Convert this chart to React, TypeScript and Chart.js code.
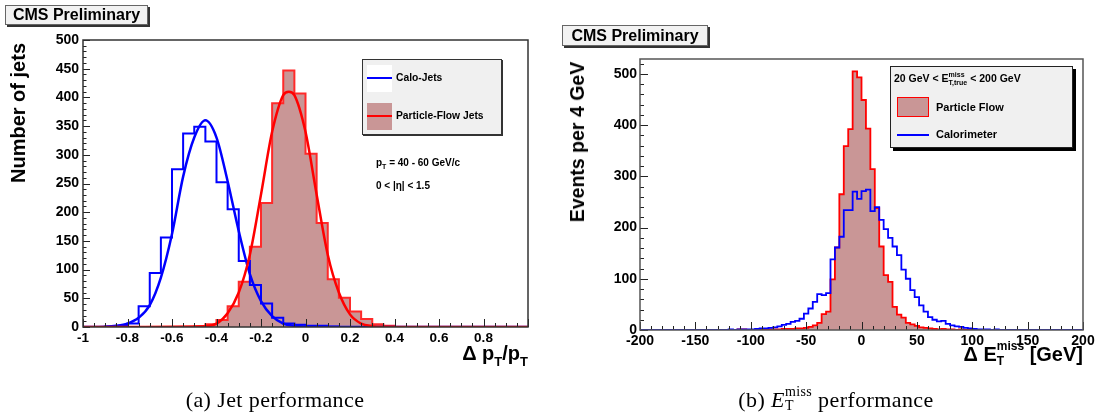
import React, { useEffect, useRef } from 'react';
import { Chart, registerables } from 'chart.js';

Chart.register(...registerables);

// ---------------- (a) Jet performance : Δp_T/p_T ----------------
const jetBinStart = -1;
const jetBinWidth = 0.05;
// 40 bins from -1 to 1
const jetCaloCounts = [
  0, 0, 1, 2, 6, 36, 94, 156, 275, 337,
  349, 323, 252, 205, 115, 73, 41, 16, 6, 4,
  2, 2, 1, 0, 0, 0, 0, 0, 0, 0,
  0, 0, 0, 0, 0, 0, 0, 0, 0, 0,
];
const jetPFCounts = [
  0, 0, 0, 0, 0, 0, 0, 0, 0, 0,
  1, 5, 12, 36, 79, 140, 216, 390, 447, 407,
  302, 181, 83, 51, 27, 14, 5, 2, 0, 0,
  0, 0, 0, 0, 0, 0, 0, 0, 0, 0,
];
// Gaussian fit curves
const jetCaloFitX = [-1, -0.9, -0.85, -0.8, -0.75, -0.7, -0.65, -0.6, -0.55, -0.5, -0.45, -0.4, -0.35, -0.3, -0.25, -0.2, -0.15, -0.1, -0.05, 0, 0.1, 1];
const jetCaloFitY = [0, 0.5, 2, 6, 16, 38, 86, 162, 262, 330, 360, 330, 254, 167, 92, 45, 19, 6, 2, 0.5, 0, 0];
const jetPFFitX = [-1, -0.45, -0.4, -0.35, -0.3, -0.25, -0.2, -0.15, -0.1, -0.075, -0.05, 0, 0.05, 0.1, 0.15, 0.2, 0.25, 0.3, 0.35, 0.45, 1];
const jetPFFitY = [0, 1.5, 6, 24, 60, 126, 231, 340, 404, 410, 404, 340, 231, 126, 60, 22, 6, 1.5, 0.3, 0, 0];
const jetXTicks = [-1, -0.8, -0.6, -0.4, -0.2, 0, 0.2, 0.4, 0.6, 0.8];
const jetYTicks = [0, 50, 100, 150, 200, 250, 300, 350, 400, 450, 500];

// ---------------- (b) MET performance : ΔE_T^miss ----------------
const metBinStart = -200;
const metBinWidth = 4;
// 100 bins from -200 to 200 GeV
const metPFCounts = [
  0, 0, 0, 0, 0, 0, 0, 0, 0, 0,
  0, 0, 0, 0, 0, 0, 0, 0, 0, 0,
  0, 0, 1, 1, 0, 0, 1, 0, 1, 1,
  1, 1, 2, 2, 2, 3, 3, 4, 6, 9,
  14, 31, 36, 99, 161, 265, 359, 392, 505, 493,
  449, 393, 314, 238, 163, 107, 94, 45, 30, 24,
  14, 11, 8, 5, 4, 3, 2, 1, 2, 1,
  1, 0, 1, 0, 1, 0, 0, 0, 0, 0,
  0, 0, 0, 0, 0, 0, 0, 0, 0, 0,
  0, 0, 0, 0, 0, 0, 0, 0, 0, 0,
];
const metCaloCounts = [
  0, 0, 0, 0, 0, 0, 0, 0, 0, 0,
  0, 0, 0, 0, 0, 0, 0, 0, 0, 0,
  1, 0, 1, 1, 1, 1, 2, 3, 3, 4,
  5, 7, 10, 12, 16, 18, 22, 32, 42, 55,
  70, 68, 72, 138, 161, 182, 234, 234, 270, 256,
  271, 274, 232, 240, 215, 197, 180, 163, 146, 118,
  100, 78, 64, 48, 36, 25, 20, 17, 18, 12,
  9, 7, 6, 4, 3, 2, 1, 1, 1, 0,
  1, 0, 0, 0, 0, 0, 0, 0, 0, 0,
  0, 0, 0, 0, 0, 0, 0, 0, 0, 0,
];
const metXTicks = [-200, -150, -100, -50, 0, 50, 100, 150, 200];
const metYTicks = [0, 100, 200, 300, 400, 500];

// ---------------- styling ----------------
const SANS = '"Liberation Sans", Arial, Helvetica, sans-serif';
const SERIF = '"Liberation Serif", "Times New Roman", serif';
const BLUE = '#0000ff';
const RED = '#ff0000';
const BROWN = 'rgb(201,150,150)';

function histPoints(start: number, width: number, counts: number[]) {
  const pts = counts.map((c, i) => ({ x: start + i * width, y: c }));
  pts.push({ x: start + counts.length * width, y: counts[counts.length - 1] });
  return pts;
}

function histDataset(start: number, width: number, counts: number[], color: string, fillColor: string | null, order: number, lw: number) {
  return {
    data: histPoints(start, width, counts),
    borderColor: color,
    borderWidth: lw,
    backgroundColor: fillColor || 'rgba(0,0,0,0)',
    fill: fillColor ? 'origin' : false,
    stepped: 'before',
    pointRadius: 0,
    order,
  };
}

function curveDataset(xs: number[], ys: number[], color: string, order: number) {
  return {
    data: xs.map((x, i) => ({ x, y: ys[i] })),
    borderColor: color,
    borderWidth: 2.5,
    fill: false,
    pointRadius: 0,
    cubicInterpolationMode: 'monotone',
    order,
  };
}

const rootFrame = {
  id: 'rootFrame',
  afterDatasetsDraw(chart: any, _args: any, o: any) {
    const { ctx, chartArea: a } = chart;
    const xs = chart.scales.x;
    const ys = chart.scales.y;
    ctx.save();
    ctx.strokeStyle = '#222';
    ctx.lineWidth = 1;
    ctx.beginPath();
    const nx = Math.round((xs.max - xs.min) / o.xMinor);
    for (let k = 0; k <= nx; k++) {
      const v = xs.min + k * o.xMinor;
      const r = v / o.xMajor;
      const major = Math.abs(r - Math.round(r)) < 1e-6;
      const px = Math.round(xs.getPixelForValue(v)) + 0.5;
      ctx.moveTo(px, a.bottom);
      ctx.lineTo(px, a.bottom - (major ? o.xMajorLen : o.xMinorLen));
    }
    const ny = Math.floor((ys.max - ys.min) / o.yMinor + 1e-6);
    for (let k = 0; k <= ny; k++) {
      const v = ys.min + k * o.yMinor;
      const r = v / o.yMajor;
      const major = Math.abs(r - Math.round(r)) < 1e-6;
      const py = Math.round(ys.getPixelForValue(v)) + 0.5;
      ctx.moveTo(a.left, py);
      ctx.lineTo(a.left + (major ? o.yMajorLen : o.yMinorLen), py);
    }
    ctx.stroke();
    ctx.strokeStyle = o.frameColor;
    ctx.lineWidth = 1.5;
    ctx.strokeRect(a.left, a.top, a.right - a.left, a.bottom - a.top);
    ctx.restore();
  },
};

function fmt(v: any) {
  return String(Number(v));
}

function makeConfig(p: any) {
  return {
    type: 'line',
    data: { datasets: p.datasets },
    options: {
      responsive: false,
      animation: false,
      events: [],
      layout: { padding: p.padding },
      plugins: {
        legend: { display: false },
        tooltip: { enabled: false },
        rootFrame: p.frame,
      },
      scales: {
        x: {
          type: 'linear',
          min: p.xMin,
          max: p.xMax,
          afterBuildTicks: (s: any) => { s.ticks = p.xTicks.map((v: number) => ({ value: v })); },
          afterFit: (s: any) => { s.height = 20; },
          grid: { display: false, drawTicks: false },
          border: { display: false },
          ticks: {
            autoSkip: false, maxRotation: 0, minRotation: 0, padding: p.xPad, color: '#000',
            font: { family: SANS, size: p.xFont, weight: 'bold' },
            callback: (v: any) => fmt(v),
          },
        },
        y: {
          type: 'linear',
          min: 0,
          max: p.yMax,
          afterBuildTicks: (s: any) => { s.ticks = p.yTicks.map((v: number) => ({ value: v })); },
          afterFit: (s: any) => { s.width = p.yWidth; },
          grid: { display: false, drawTicks: false },
          border: { display: false },
          ticks: {
            autoSkip: false, padding: p.yPad, color: '#000',
            font: { family: SANS, size: p.yFont, weight: 'bold' },
            callback: (v: any) => fmt(v),
          },
        },
      },
    },
    plugins: [rootFrame],
  };
}

const abs = (s: React.CSSProperties): React.CSSProperties => ({ position: 'absolute', whiteSpace: 'nowrap', ...s });

function SupSub({ sup, sub, size, top, gap, italic }: { sup: string; sub: string; size: number; top: number; gap: number; italic?: boolean }) {
  return (
    <span style={{ display: 'inline-flex', flexDirection: 'column', alignItems: 'flex-start', verticalAlign: 'top', position: 'relative', top, fontSize: size, lineHeight: `${size}px`, gap, fontStyle: italic ? 'italic' : 'normal' }}>
      <span>{sup}</span>
      <span>{sub}</span>
    </span>
  );
}

const cmsBox = (left: number, top: number, w: number, h: number): React.CSSProperties => abs({
  left, top, width: w, height: h, boxSizing: 'border-box', background: '#f2f2f2',
  border: '1px solid #666', boxShadow: '2px 2px 0 #333', fontFamily: SANS, fontWeight: 'bold',
  fontSize: 16, lineHeight: `${h - 2}px`, textAlign: 'center', color: '#000',
});

export default function App() {
  const refA = useRef<HTMLCanvasElement>(null);
  const refB = useRef<HTMLCanvasElement>(null);

  useEffect(() => {
    const cfgA: any = makeConfig({
      datasets: [
        histDataset(jetBinStart, jetBinWidth, jetPFCounts, '#ff2a2a', BROWN, 4, 2),
        histDataset(jetBinStart, jetBinWidth, jetCaloCounts, BLUE, null, 3, 2),
        curveDataset(jetCaloFitX, jetCaloFitY, BLUE, 2),
        curveDataset(jetPFFitX, jetPFFitY, RED, 1),
      ],
      padding: { left: 0, top: 40, right: 24, bottom: 71 },
      xMin: -1, xMax: 1, xTicks: jetXTicks, xPad: 3, xFont: 13.5,
      yMax: 500, yTicks: jetYTicks, yWidth: 83, yPad: 4, yFont: 14,
      frame: { xMinor: 0.05, xMajor: 0.2, yMinor: 10, yMajor: 50, xMajorLen: 8, xMinorLen: 4, yMajorLen: 7, yMinorLen: 3.5, frameColor: '#333' },
    });
    const cfgB: any = makeConfig({
      datasets: [
        histDataset(metBinStart, metBinWidth, metPFCounts, RED, BROWN, 2, 1.8),
        histDataset(metBinStart, metBinWidth, metCaloCounts, BLUE, null, 1, 1.8),
      ],
      padding: { left: 0, top: 59, right: 22, bottom: 68 },
      xMin: -200, xMax: 200, xTicks: metXTicks, xPad: 3, xFont: 14,
      yMax: 529, yTicks: metYTicks, yWidth: 88, yPad: 3, yFont: 14,
      frame: { xMinor: 10, xMajor: 50, yMinor: 20, yMajor: 100, xMajorLen: 8, xMinorLen: 4, yMajorLen: 8, yMinorLen: 4, frameColor: '#555' },
    });
    const a = new Chart(refA.current as HTMLCanvasElement, cfgA);
    const b = new Chart(refB.current as HTMLCanvasElement, cfgB);
    return () => { a.destroy(); b.destroy(); };
  }, []);

  return (
    <div style={{ position: 'absolute', left: 0, top: 0, width: 1105, height: 418, background: '#fff', overflow: 'hidden', fontFamily: SANS, color: '#000' }}>
      <canvas ref={refA} width={552} height={418} style={{ position: 'absolute', left: 0, top: 0 }} />
      <canvas ref={refB} width={553} height={418} style={{ position: 'absolute', left: 552, top: 0 }} />

      {/* ---- panel (a) ---- */}
      <div style={cmsBox(5, 5, 143, 20)}>CMS Preliminary</div>
      <div style={abs({ left: 18, top: 113, transform: 'translate(-50%,-50%) rotate(-90deg)', fontSize: 20, fontWeight: 'bold', lineHeight: '20px' })}>Number of jets</div>
      <div style={abs({ right: 1105 - 528, top: 343, fontSize: 20, fontWeight: 'bold', lineHeight: '20px' })}>
        Δ p<span style={{ fontSize: 13, position: 'relative', top: 6 }}>T</span>/p<span style={{ fontSize: 13, position: 'relative', top: 6 }}>T</span>
      </div>
      <div style={abs({ left: 362, top: 59, width: 140, height: 76, boxSizing: 'border-box', background: '#f0f0f0', border: '1px solid #333', boxShadow: '1px 1px 0 #333' })} />
      <div style={abs({ left: 367, top: 65, width: 25, height: 27, background: '#fff' })} />
      <div style={abs({ left: 367, top: 77, width: 25, height: 2, background: BLUE })} />
      <div style={abs({ left: 367, top: 103, width: 25, height: 27, background: BROWN })} />
      <div style={abs({ left: 367, top: 115, width: 25, height: 2, background: RED })} />
      <div style={abs({ left: 396, top: 73, fontSize: 10.3, fontWeight: 'bold', lineHeight: '10px' })}>Calo-Jets</div>
      <div style={abs({ left: 396, top: 111, fontSize: 10.3, fontWeight: 'bold', lineHeight: '10px' })}>Particle-Flow Jets</div>
      <div style={abs({ left: 376, top: 158, fontSize: 10, fontWeight: 'bold', lineHeight: '10px' })}>
        p<span style={{ fontSize: 7, position: 'relative', top: 3 }}>T</span> = 40 - 60 GeV/c
      </div>
      <div style={abs({ left: 376, top: 181, fontSize: 10, fontWeight: 'bold', lineHeight: '10px' })}>0 &lt; |η| &lt; 1.5</div>
      <div style={abs({ left: 275, top: 389, transform: 'translateX(-50%)', fontFamily: SERIF, fontSize: 22, lineHeight: '22px', letterSpacing: 0.4 })}>(a) Jet performance</div>

      {/* ---- panel (b) ---- */}
      <div style={cmsBox(562, 25, 146, 21)}>CMS Preliminary</div>
      <div style={abs({ left: 577, top: 142, transform: 'translate(-50%,-50%) rotate(-90deg)', fontSize: 19.5, fontWeight: 'bold', lineHeight: '20px' })}>Events per 4 GeV</div>
      <div style={abs({ right: 1105 - 1083, top: 344, fontSize: 20, fontWeight: 'bold', lineHeight: '20px' })}>
        Δ E<SupSub sup="miss" sub="T" size={12} top={-4} gap={3} /> [GeV]
      </div>
      <div style={abs({ left: 890, top: 66, width: 183, height: 82, boxSizing: 'border-box', background: '#f0f0f0', border: '1px solid #222', boxShadow: '3px 3px 0 #000' })} />
      <div style={abs({ left: 894, top: 73, fontSize: 10.5, fontWeight: 'bold', lineHeight: '11px' })}>
        20 GeV &lt; E<SupSub sup="miss" sub="T,true" size={7} top={-2} gap={1} /> &lt; 200 GeV
      </div>
      <div style={abs({ left: 897, top: 97, width: 32, height: 20, boxSizing: 'border-box', background: BROWN, border: '1.5px solid ' + RED })} />
      <div style={abs({ left: 897, top: 134, width: 32, height: 1.6, background: BLUE })} />
      <div style={abs({ left: 936, top: 102, fontSize: 11, fontWeight: 'bold', lineHeight: '11px' })}>Particle Flow</div>
      <div style={abs({ left: 936, top: 129, fontSize: 11, fontWeight: 'bold', lineHeight: '11px' })}>Calorimeter</div>
      <div style={abs({ left: 836, top: 389, transform: 'translateX(-50%)', fontFamily: SERIF, fontSize: 22, lineHeight: '22px', letterSpacing: 0.4 })}>
        (b) <i>E</i><SupSub sup="miss" sub="T" size={14} top={-4} gap={0} /> performance
      </div>
    </div>
  );
}
